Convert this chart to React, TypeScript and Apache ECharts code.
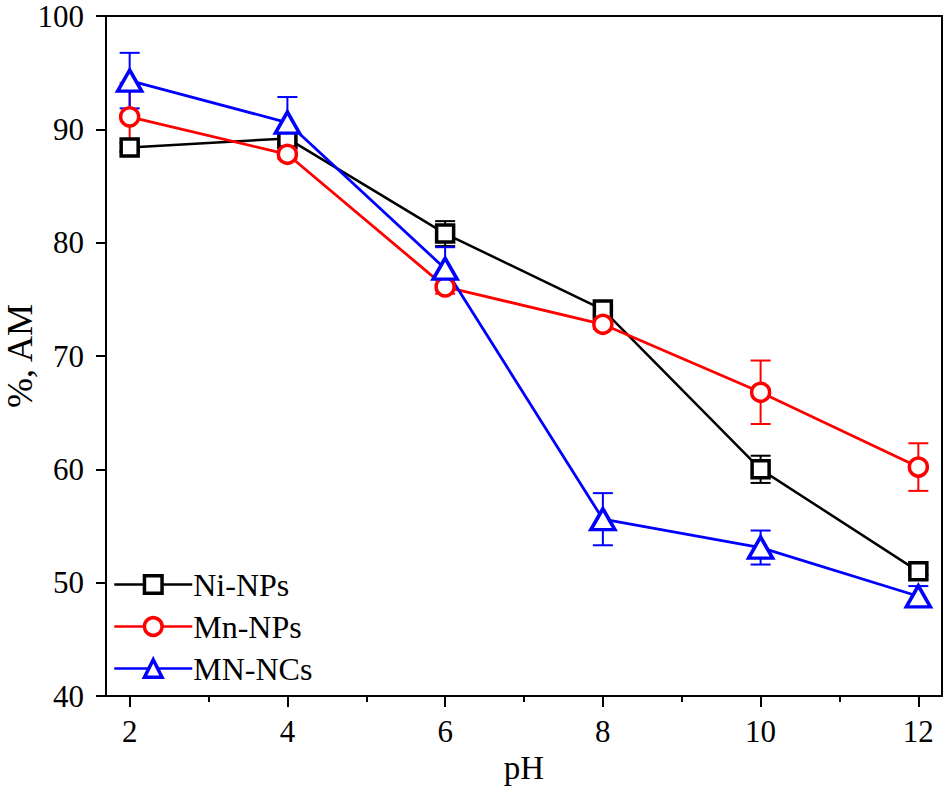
import React, { useEffect, useRef } from "react";
import * as echarts from "echarts";

const phValues = [2, 4, 6, 8, 10, 12];
const xTickValues = [2, 4, 6, 8, 10, 12];
const xMinorTickValues = [3, 5, 7, 9, 11];

const niNPs = [88.4, 89.2, 80.8, 74.1, 60.0, 51.0];
const niNPsErr = [0.4, 0.5, 1.1, 0.5, 1.2, 0.3];
const mnNPs = [91.1, 87.8, 76.1, 72.8, 66.8, 60.2];
const mnNPsErr = [3.0, 0.4, 0.6, 0.4, 2.8, 2.1];
const mnNCs = [94.3, 90.6, 77.7, 55.6, 53.1, 48.8];
const mnNCsErr = [2.45, 2.25, 1.9, 2.3, 1.5, 0.9];

const FONT = "'Liberation Serif', 'Times New Roman', serif";

function pairs(ys: number[]) {
  return phValues.map((x, i) => [x, ys[i]]);
}
function errData(ys: number[], es: number[]) {
  return phValues.map((x, i) => [x, ys[i] - es[i], ys[i] + es[i]]);
}

function errorSeries(name: string, ys: number[], es: number[], color: string) {
  return {
    type: "custom",
    name,
    z: 1,
    data: errData(ys, es),
    encode: { x: 0, y: [1, 2] },
    renderItem: (params: any, api: any) => {
      const x = api.value(0);
      const lo = api.coord([x, api.value(1)]);
      const hi = api.coord([x, api.value(2)]);
      const hw = 10;
      const style = { stroke: color, lineWidth: 2, fill: "none" };
      return {
        type: "group",
        children: [
          { type: "line", shape: { x1: lo[0], y1: lo[1], x2: hi[0], y2: hi[1] }, style },
          { type: "line", shape: { x1: lo[0] - hw, y1: lo[1], x2: lo[0] + hw, y2: lo[1] }, style },
          { type: "line", shape: { x1: hi[0] - hw, y1: hi[1], x2: hi[0] + hw, y2: hi[1] }, style },
        ],
      };
    },
  };
}

function lineSeries(name: string, ys: number[], color: string, symbol: string, size: any, width: number) {
  return {
    type: "line",
    name,
    z: 3,
    data: pairs(ys),
    symbol,
    symbolSize: size,
    showAllSymbol: true,
    lineStyle: { color, width },
    itemStyle: { color: "#fff", borderColor: color, borderWidth: 3.5 },
  };
}

export default function App() {
  const ref = useRef<HTMLDivElement>(null);
  useEffect(() => {
    if (!ref.current) return;
    const chart = echarts.init(ref.current, null, { renderer: "svg" });
    const option: any = {
      animation: false,
      backgroundColor: "#fff",
      grid: {
        left: 106,
        top: 16,
        right: 6,
        bottom: 95,
        containLabel: false,
        outerBoundsMode: "none",
        show: true,
        borderColor: "#000",
        borderWidth: 2,
        backgroundColor: "transparent",
      },
      legend: {
        data: ["Ni-NPs", "Mn-NPs", "MN-NCs"],
        orient: "vertical",
        left: 108,
        top: 562,
        padding: 5,
        itemWidth: 78,
        itemHeight: 22,
        itemGap: 7,
        itemStyle: { borderWidth: 3.5 },
        lineStyle: { width: 2.5 },
        textStyle: { fontFamily: FONT, fontSize: 32, color: "#000", lineHeight: 35, padding: [0, 0, 0, -4] },
      },
      xAxis: [
        {
          type: "value",
          min: 1.7,
          max: 12.3,
          position: "bottom",
          name: "pH",
          nameLocation: "middle",
          nameGap: 55,
          nameMoveOverlap: false,
          nameTextStyle: { fontFamily: FONT, fontSize: 33, color: "#000" },
          axisLine: { lineStyle: { color: "#000", width: 2 } },
          axisTick: { customValues: xTickValues, length: 11, lineStyle: { color: "#000", width: 2 } },
          axisLabel: { customValues: xTickValues, fontFamily: FONT, fontSize: 31, color: "#000", margin: 20 },
          splitLine: { show: false },
        },
        {
          type: "value",
          min: 1.7,
          max: 12.3,
          position: "bottom",
          axisLine: { show: false },
          axisTick: { customValues: xMinorTickValues, length: 6, lineStyle: { color: "#000", width: 2 } },
          axisLabel: { show: false },
          splitLine: { show: false },
        },
      ],
      yAxis: {
        type: "value",
        min: 40,
        max: 100,
        interval: 10,
        name: "%, AM",
        nameLocation: "middle",
        nameGap: 68,
        nameMoveOverlap: false,
        nameRotate: 90,
        nameTextStyle: { fontFamily: FONT, fontSize: 36, color: "#000" },
        axisLine: { lineStyle: { color: "#000", width: 2 } },
        axisTick: { length: 10, lineStyle: { color: "#000", width: 2 } },
        axisLabel: { fontFamily: FONT, fontSize: 31, color: "#000", margin: 22 },
        splitLine: { show: false },
      },
      series: [
        errorSeries("Ni-NPs err", niNPs, niNPsErr, "#000000"),
        errorSeries("Mn-NPs err", mnNPs, mnNPsErr, "#ff0000"),
        errorSeries("MN-NCs err", mnNCs, mnNCsErr, "#0000ff"),
        lineSeries("Ni-NPs", niNPs, "#000000", "rect", 17, 2.5),
        lineSeries("Mn-NPs", mnNPs, "#ff0000", "circle", 18, 2.8),
        lineSeries("MN-NCs", mnNCs, "#0000ff", "triangle", [24, 21], 2.8),
      ],
    };
    chart.setOption(option);
    return () => chart.dispose();
  }, []);
  return (
    <div
      ref={ref}
      style={{ position: "absolute", left: 0, top: 0, width: 948, height: 791 }}
    />
  );
}
